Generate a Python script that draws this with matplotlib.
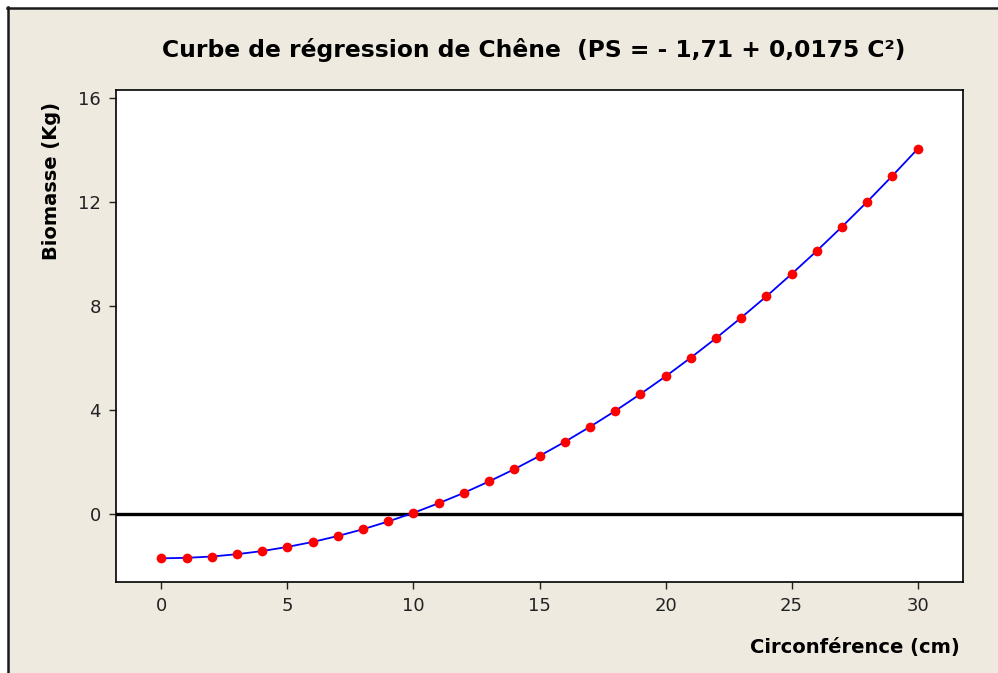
import matplotlib
matplotlib.use('Agg')
import matplotlib.pyplot as plt
from matplotlib.patches import Rectangle
from matplotlib.lines import Line2D

# values
circ = [0, 1, 2, 3, 4, 5, 6, 7, 8, 9, 10, 11, 12, 13, 14, 15,
        16, 17, 18, 19, 20, 21, 22, 23, 24, 25, 26, 27, 28, 29, 30]
biomasse = [-1.71, -1.69, -1.64, -1.55, -1.43, -1.27, -1.08, -0.85, -0.59, -0.29, 0.04,
            0.41, 0.81, 1.25, 1.72, 2.23, 2.77, 3.35, 3.96, 4.61, 5.29,
            6.01, 6.76, 7.55, 8.37, 9.23, 10.12, 11.05, 12.01, 13.01, 14.04]
xticks = [0, 5, 10, 15, 20, 25, 30]
yticks = [0, 4, 8, 12, 16]

W, H = 998, 673
bg = '#EEEAE0'
plt.rcParams['font.family'] = ['DejaVu Sans']

fig = plt.figure(figsize=(W / 100, H / 100), dpi=100)
fig.patch.set_facecolor('white')

# beige panel with dark border on top and left
fig.patches.append(Rectangle((8 / W, 0), 1 - 8 / W, 1 - 8 / H, transform=fig.transFigure,
                             facecolor=bg, edgecolor='none', zorder=-5))
fig.lines.append(Line2D([7 / W, 1], [1 - 7.5 / H, 1 - 7.5 / H], transform=fig.transFigure,
                        color='#1a1a1a', lw=1.8, zorder=-4))
fig.lines.append(Line2D([7.5 / W, 7.5 / W], [0, 1 - 7 / H], transform=fig.transFigure,
                        color='#1a1a1a', lw=1.8, zorder=-4))

ax = fig.add_axes([116 / W, 1 - 582 / H, (963 - 116) / W, (582 - 90) / H])
ax.set_facecolor('white')

ax.axhline(0, color='black', lw=2.4, zorder=1)
ax.plot(circ, biomasse, color='blue', lw=1.3, zorder=2)
ax.plot(circ, biomasse, 'o', color='red', markersize=7, markeredgewidth=0, zorder=3)

ax.set_xlim(-1.8, 31.8)
ax.set_ylim(-2.62, 16.31)
ax.set_xticks(xticks)
ax.set_yticks(yticks)
ax.tick_params(direction='out', length=5, width=1, labelsize=13, pad=6, colors='#222222')
for s in ax.spines.values():
    s.set_linewidth(1.2)

fig.text(534 / W, 1 - 50 / H, 'Curbe de régression de Chêne  (PS = - 1,71 + 0,0175 C²)',
         ha='center', va='center', fontsize=16.8, fontweight='bold')
fig.text(52 / W, 1 - 181 / H, 'Biomasse (Kg)', rotation=90, ha='center', va='center',
         fontsize=14, fontweight='bold')
fig.text(960 / W, 1 - 647 / H, 'Circonférence (cm)', ha='right', va='center',
         fontsize=14, fontweight='bold')

fig.savefig('out.png', dpi=100, facecolor=fig.get_facecolor())
